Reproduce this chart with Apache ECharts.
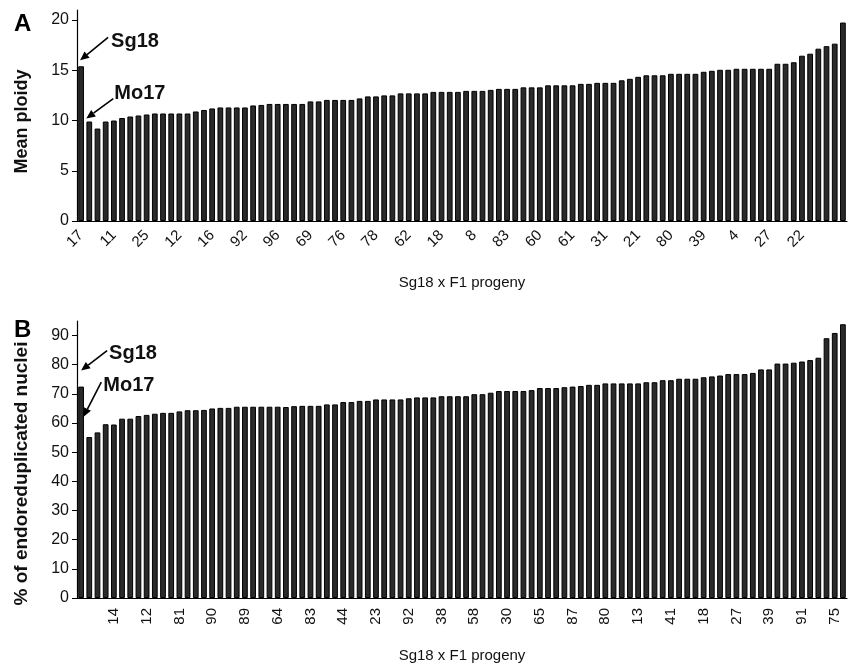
<!DOCTYPE html>
<html>
<head>
<meta charset="utf-8">
<script src="https://cdn.jsdelivr.net/npm/echarts@6/dist/echarts.min.js"></script>
<style>
  html, body { margin: 0; padding: 0; background: #fff; }
  #chartdiv { width: 849px; height: 666px; }
</style>
</head>
<body>
<div id="chartdiv"></div>
<script>
// Panel A: mean ploidy, sorted (Sg18 and Mo17 parents first)
const ploidy = [
  15.4, 9.9, 9.2, 9.9, 10.0, 10.25, 10.4, 10.5, 10.6, 10.7,
  10.7, 10.7, 10.7, 10.7, 10.9, 11.05, 11.2, 11.3, 11.3, 11.3,
  11.3, 11.5, 11.55, 11.65, 11.65, 11.65, 11.65, 11.65, 11.9, 11.9,
  12.05, 12.05, 12.05, 12.05, 12.2, 12.4, 12.4, 12.5, 12.5, 12.7,
  12.7, 12.7, 12.7, 12.85, 12.85, 12.85, 12.85, 12.95, 12.95, 12.95,
  13.05, 13.15, 13.15, 13.15, 13.3, 13.3, 13.3, 13.5, 13.5, 13.5,
  13.5, 13.65, 13.65, 13.75, 13.75, 13.75, 14.0, 14.15, 14.35, 14.5,
  14.5, 14.5, 14.65, 14.65, 14.65, 14.65, 14.85, 14.95, 15.05, 15.05,
  15.15, 15.15, 15.15, 15.15, 15.15, 15.65, 15.65, 15.8, 16.45, 16.65,
  17.15, 17.4, 17.65, 19.75
];

// Panel B: % of endoreduplicated nuclei
const endored = [
  72.5, 55.2, 56.8, 59.6, 59.5, 61.5, 61.5, 62.4, 62.8, 63.2,
  63.5, 63.5, 64.0, 64.4, 64.4, 64.5, 65.0, 65.2, 65.2, 65.6,
  65.6, 65.6, 65.6, 65.6, 65.6, 65.5, 65.8, 65.9, 65.9, 65.9,
  66.4, 66.4, 67.2, 67.2, 67.6, 67.6, 68.1, 68.1, 68.1, 68.1,
  68.5, 68.8, 68.8, 68.8, 69.2, 69.2, 69.2, 69.2, 69.9, 69.9,
  70.4, 71.0, 71.0, 71.0, 71.0, 71.3, 72.0, 72.0, 72.0, 72.3,
  72.5, 72.7, 73.1, 73.1, 73.6, 73.6, 73.6, 73.6, 73.6, 74.0,
  74.0, 74.7, 74.7, 75.2, 75.2, 75.2, 75.7, 76.0, 76.3, 76.8,
  76.8, 76.8, 77.2, 78.4, 78.4, 80.4, 80.4, 80.7, 81.1, 81.6,
  82.4, 89.1, 90.9, 93.9
];

// every 4th progeny is labelled on the x axis
const topTickLabels = ["17", "11", "25", "12", "16", "92", "96", "69", "76", "78", "62", "18",
  "8", "83", "60", "61", "31", "21", "80", "39", "4", "27", "22"];
const bottomTickLabels = ["14", "12", "81", "90", "89", "64", "83", "44", "23", "92", "38", "58",
  "30", "65", "87", "80", "13", "41", "18", "27", "39", "91", "75"];
const topLabelStart = 0;
const bottomLabelStart = 4;
const labelStep = 4;

const ploidyTicks = [0, 5, 10, 15, 20];
const endoredTicks = [0, 10, 20, 30, 40, 50, 60, 70, 80, 90];

function buildCategories(n, labels, start) {
  return Array.from({ length: n }, (_, i) => {
    const k = (i - start) / labelStep;
    return (k >= 0 && Number.isInteger(k) && k < labels.length) ? labels[k] : "";
  });
}

const FONT = "Liberation Sans, Arial, sans-serif";

function xAxisFor(grid, cats, rotate, nameGap, margin) {
  return {
    type: "category",
    gridIndex: grid,
    data: cats,
    name: "Sg18 x F1 progeny",
    nameLocation: "middle",
    nameGap: nameGap,
    nameTextStyle: { fontFamily: FONT, fontSize: 15, color: "#111" },
    axisLine: { lineStyle: { color: "#000", width: 1.2 } },
    axisTick: { interval: 0, length: 5, lineStyle: { color: "#000" } },
    axisLabel: {
      interval: 0,
      rotate: rotate,
      margin: margin,
      fontFamily: FONT,
      fontSize: 15,
      color: "#111"
    }
  };
}

function yAxisFor(grid, max, ticks, name, nameGap, fontSize, shift) {
  return {
    type: "value",
    gridIndex: grid,
    min: 0,
    max: max,
    name: name,
    nameLocation: "middle",
    nameGap: nameGap,
    // right padding pushes the rotated title a little down the axis
    nameTextStyle: { fontFamily: FONT, fontSize: fontSize, fontWeight: "bold", color: "#111", padding: [0, shift, 0, 0] },
    splitLine: { show: false },
    axisLine: { show: true, lineStyle: { color: "#000", width: 1.2 } },
    axisTick: { show: true, length: 5, customValues: ticks, lineStyle: { color: "#000" } },
    axisLabel: {
      customValues: ticks,
      margin: 8,
      fontFamily: FONT,
      fontSize: 16,
      color: "#111"
    }
  };
}

const barStyle = { color: "#2a2a2a", borderColor: "#000", borderWidth: 1 };

function arrow(x1, y1, x2, y2) {
  const ang = Math.atan2(y2 - y1, x2 - x1);
  const len = 9, half = 4;
  const bx = x2 - len * Math.cos(ang), by = y2 - len * Math.sin(ang);
  const nx = -Math.sin(ang) * half, ny = Math.cos(ang) * half;
  return [
    { type: "line", shape: { x1: x1, y1: y1, x2: bx, y2: by }, style: { stroke: "#000", lineWidth: 1.6 } },
    { type: "polygon", shape: { points: [[x2, y2], [bx + nx, by + ny], [bx - nx, by - ny]] }, style: { fill: "#000" } }
  ];
}

function note(text, x, y) {
  return {
    type: "text", x: x, y: y,
    style: { text: text, font: "bold 20px " + FONT, fill: "#111", textVerticalAlign: "middle" }
  };
}

function renderChart() {
  const chartDiv = document.getElementById("chartdiv");
  const chart = echarts.init(chartDiv);

  const topCats = buildCategories(ploidy.length, topTickLabels, topLabelStart);
  const bottomCats = buildCategories(endored.length, bottomTickLabels, bottomLabelStart);

  const option = {
    animation: false,
    backgroundColor: "#fff",
    grid: [
      { left: 77, right: 2, top: 10, height: 211 },
      { left: 77, right: 2, top: 321, height: 277 }
    ],
    xAxis: [xAxisFor(0, topCats, 45, 54, 12), xAxisFor(1, bottomCats, 90, 50, 10)],
    yAxis: [
      yAxisFor(0, 21, ploidyTicks, "Mean ploidy", 46, 18, 12),
      yAxisFor(1, 95, endoredTicks, "% of endoreduplicated nuclei", 46, 19, 28)
    ],
    series: [
      { type: "bar", xAxisIndex: 0, yAxisIndex: 0, data: ploidy, barCategoryGap: "30%", itemStyle: barStyle },
      { type: "bar", xAxisIndex: 1, yAxisIndex: 1, data: endored, barCategoryGap: "30%", itemStyle: barStyle }
    ]
  };
  chart.setOption(option);

  // annotations anchored to the parent bars
  const a0 = chart.convertToPixel({ seriesIndex: 0 }, [0, ploidy[0]]);
  const a1 = chart.convertToPixel({ seriesIndex: 0 }, [1, ploidy[1]]);
  const b0 = chart.convertToPixel({ seriesIndex: 1 }, [0, endored[0]]);
  const b1 = chart.convertToPixel({ seriesIndex: 1 }, [1, endored[1]]);

  const elements = [
    { type: "text", left: 14, top: 12, style: { text: "A", font: "bold 24px " + FONT, fill: "#000" } },
    { type: "text", left: 14, top: 318, style: { text: "B", font: "bold 24px " + FONT, fill: "#000" } },
    ...arrow(a0[0] + 27, a0[1] - 29, a0[0] - 1, a0[1] - 6),
    note("Sg18", a0[0] + 30, a0[1] - 25),
    ...arrow(a1[0] + 24, a1[1] - 23, a1[0] - 3, a1[1] - 3),
    note("Mo17", a1[0] + 25, a1[1] - 28),
    ...arrow(b0[0] + 26, b0[1] - 36, b0[0], b0[1] - 16),
    note("Sg18", b0[0] + 28, b0[1] - 33),
    ...arrow(b1[0] + 12, b1[1] - 55, b1[0] - 6, b1[1] - 20),
    note("Mo17", b1[0] + 14, b1[1] - 52)
  ];
  chart.setOption({ graphic: { elements: elements } });
}

window.onload = function () {
  renderChart();
};
</script>
</body>
</html>
